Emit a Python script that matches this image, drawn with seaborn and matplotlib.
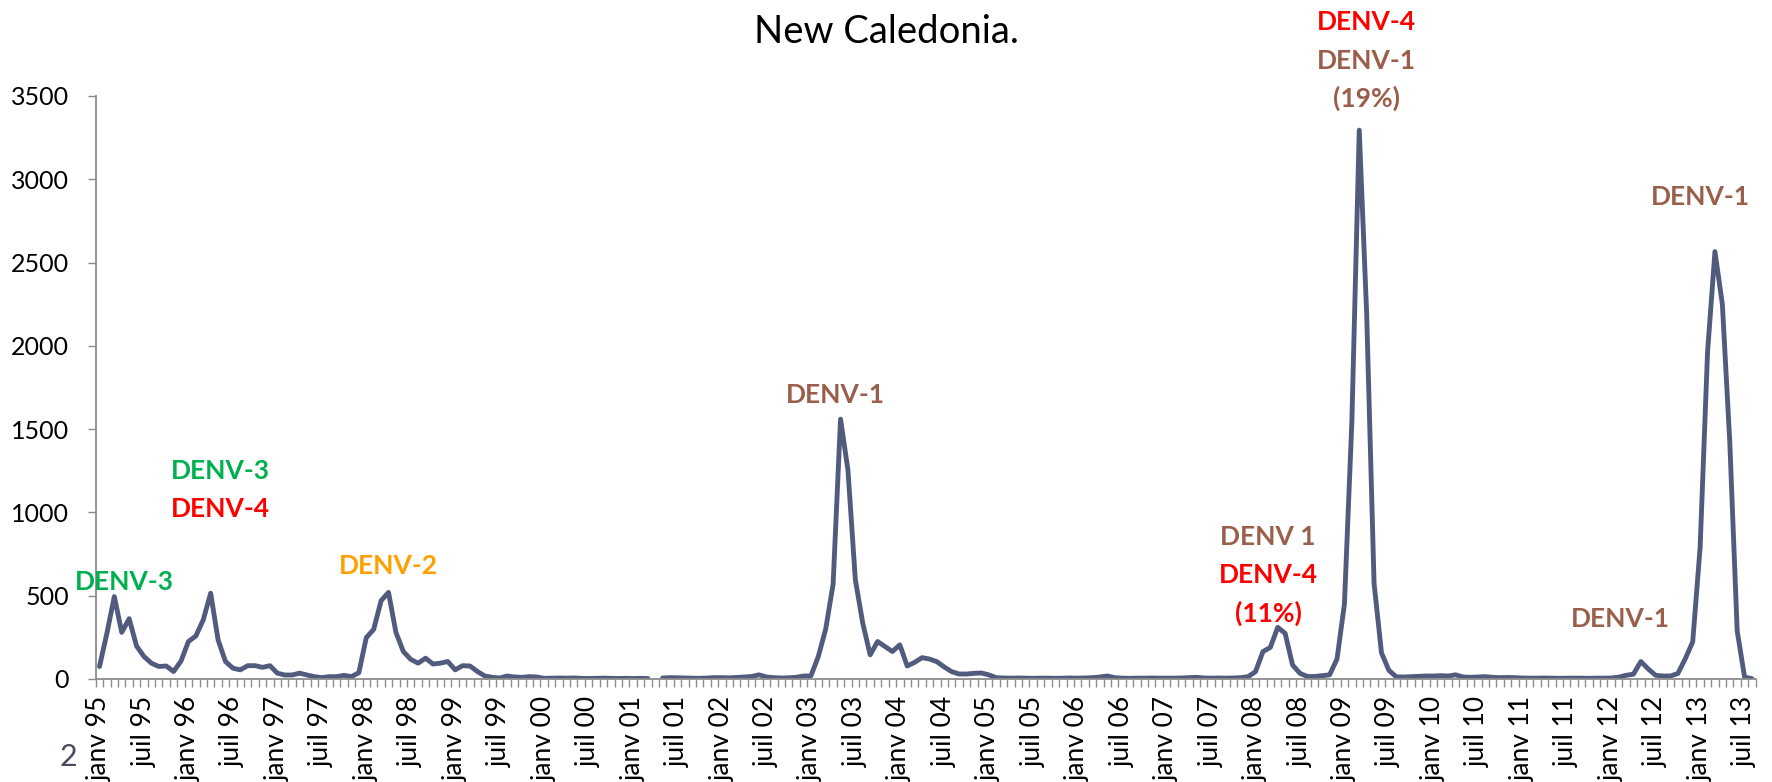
import numpy as np
import pandas as pd
import matplotlib
matplotlib.use("Agg")
import matplotlib.pyplot as plt
import seaborn as sns

# ---------------- data ----------------
title = "New Caledonia."
slide_number = "2"
tick_labels = ["janv 95", "juil 95", "janv 96", "juil 96", "janv 97", "juil 97",
               "janv 98", "juil 98", "janv 99", "juil 99", "janv 00", "juil 00",
               "janv 01", "juil 01", "janv 02", "juil 02", "janv 03", "juil 03",
               "janv 04", "juil 04", "janv 05", "juil 05", "janv 06", "juil 06",
               "janv 07", "juil 07", "janv 08", "juil 08", "janv 09", "juil 09",
               "janv 10", "juil 10", "janv 11", "juil 11", "janv 12", "juil 12",
               "janv 13", "juil 13"]

cases_1995 = [75, 275, 495, 280, 362, 198, 135, 95, 75, 78, 45, 108]
cases_1996 = [225, 258, 355, 515, 235, 105, 65, 55, 80, 80, 70, 80]
cases_1997 = [35, 24, 24, 35, 24, 14, 8, 14, 14, 22, 14, 38]
cases_1998 = [248, 298, 470, 520, 280, 165, 118, 95, 125, 90, 95, 105]
cases_1999 = [55, 80, 78, 45, 18, 10, 6, 18, 12, 10, 14, 12]
cases_2000 = [4, 5, 6, 5, 6, 4, 3, 4, 5, 4, 3, 4]
cases_2001 = [3, 4, 3, np.nan, 6, 8, 7, 6, 5, 4, 6, 8]
cases_2002 = [8, 7, 9, 12, 15, 25, 12, 8, 6, 7, 10, 18]
cases_2003 = [18, 135, 300, 570, 1560, 1255, 596, 335, 145, 225, 195, 165]
cases_2004 = [205, 78, 100, 128, 120, 104, 72, 44, 30, 30, 34, 36]
cases_2005 = [25, 8, 6, 5, 6, 5, 4, 5, 5, 4, 5, 6]
cases_2006 = [5, 6, 8, 12, 18, 8, 5, 4, 5, 5, 6, 5]
cases_2007 = [5, 5, 6, 8, 10, 6, 5, 6, 5, 6, 8, 14]
cases_2008 = [44, 164, 190, 310, 274, 84, 34, 15, 15, 20, 25, 120]
cases_2009 = [450, 1540, 3295, 2193, 574, 157, 52, 13, 12, 14, 16, 18]
cases_2010 = [18, 20, 18, 25, 12, 10, 12, 14, 10, 8, 9, 8]
cases_2011 = [6, 5, 5, 6, 5, 4, 5, 5, 5, 4, 5, 5]
cases_2012 = [6, 11, 22, 29, 105, 60, 22, 18, 18, 33, 122, 223]
cases_2013 = [790, 1960, 2566, 2250, 1425, 290, 11, 2]

annot_text = ["DENV-3", "DENV-3", "DENV-4", "DENV-2", "DENV-1",
              "DENV 1", "DENV-4", "(11%)",
              "DENV-4", "DENV-1", "(19%)",
              "DENV-1", "DENV-1"]

# ---------------- layout / style ----------------
GREEN, RED, ORANGE, BROWN = "#00B050", "#FF0000", "#FF9F00", "#9A5F4B"
annot_color = [GREEN, GREEN, RED, ORANGE, BROWN,
               BROWN, RED, RED,
               RED, BROWN, BROWN,
               BROWN, BROWN]
annot_pos = [(3.4, 534), (16.3, 1200), (16.3, 972), (39.0, 630), (99.3, 1658),
             (157.7, 804), (157.7, 576), (157.7, 344),
             (171.0, 3896), (171.0, 3662), (171.0, 3435),
             (205.2, 313), (216.1, 2845)]

all_cases = (cases_1995 + cases_1996 + cases_1997 + cases_1998 + cases_1999 +
             cases_2000 + cases_2001 + cases_2002 + cases_2003 + cases_2004 +
             cases_2005 + cases_2006 + cases_2007 + cases_2008 + cases_2009 +
             cases_2010 + cases_2011 + cases_2012 + cases_2013)

df = pd.DataFrame({"month": np.arange(len(all_cases)), "cases": all_cases})
df["segment"] = df["cases"].isna().cumsum()
df = df.dropna()

sns.set_style("white")
plt.rcParams["font.family"] = ["Lato", "DejaVu Sans"]

W, H = 1772, 782
fig = plt.figure(figsize=(W / 100, H / 100), dpi=100)
ax = fig.add_axes([95.8 / W, 1 - 679 / H, (1755.7 - 95.8) / W, (679 - 96) / H])

sns.lineplot(data=df, x="month", y="cases", units="segment", estimator=None,
             color="#515B7D", linewidth=3.5, ax=ax,
             solid_capstyle="round", solid_joinstyle="round")

n = len(all_cases)
ax.set_xlim(-0.5, n - 0.5)
ax.set_ylim(0, 3500)
ax.set_xlabel("")
ax.set_ylabel("")

axis_grey = "#8C8C8C"
for side in ["top", "right"]:
    ax.spines[side].set_visible(False)
for side in ["left", "bottom"]:
    ax.spines[side].set_color(axis_grey)
    ax.spines[side].set_linewidth(1.3)

ax.set_yticks(np.arange(0, 3501, 500))
ax.tick_params(axis="y", which="major", direction="out", length=5.8, width=1.0,
               color=axis_grey, pad=13.5, labelsize=18, labelcolor="black", left=True)

ax.set_xticks(np.arange(0, 6 * len(tick_labels), 6))
ax.set_xticklabels(tick_labels, rotation=90, ha="center", va="top")
ax.set_xticks(np.arange(-0.5, n, 1), minor=True)
ax.tick_params(axis="x", which="major", length=0, pad=12.0, labelsize=19,
               labelcolor="black", bottom=True)
ax.tick_params(axis="x", which="minor", direction="out", length=5.5, width=1.0,
               color=axis_grey, bottom=True)

for txt, col, (mx, my) in zip(annot_text, annot_color, annot_pos):
    ax.text(mx, my, txt, color=col, fontsize=19, fontweight="bold",
            ha="center", va="baseline", clip_on=False)

fig.text(0.5, 1 - 32 / H, title, ha="center", va="center", fontsize=27.5, color="black")
fig.text(68 / W, 1 - 757 / H, slide_number, ha="center", va="center",
         fontsize=22, color="#4B4B5E")

fig.savefig("out.png", dpi=100, facecolor="white")
